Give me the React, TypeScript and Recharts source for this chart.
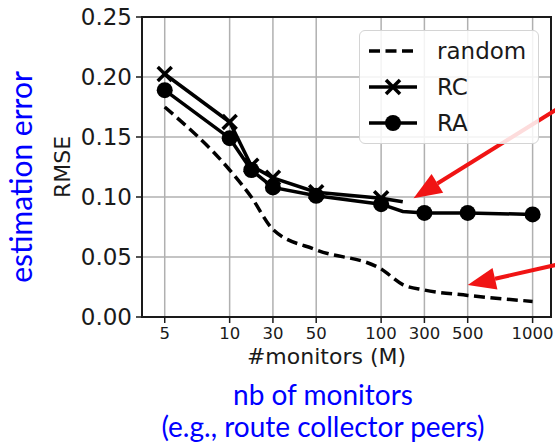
import React from "react";
import {
  CartesianGrid,
  Label,
  Legend,
  Line,
  LineChart,
  ReferenceArea,
  ReferenceLine,
  XAxis,
  YAxis,
} from "recharts";

// #monitors (M) for every measured point and the slot it occupies on the
// original (index based) x axis
const monitors = [5, 10, 20, 30, 50, 100, 200, 300, 500, 1000];
const slots = [0, 3, 4, 5, 7, 10, 11, 12, 14, 17];

const randomRmse = [0.175, 0.1225, 0.1, 0.073, 0.056, 0.04, 0.027, 0.0225, 0.018, 0.013];
const rcRmse = [0.2025, 0.1625, 0.126, 0.116, 0.104, 0.099, 0.096, null, null, null];
const raRmse = [0.189, 0.149, 0.1225, 0.108, 0.101, 0.094, 0.088, 0.0867, 0.0867, 0.0855];

// points that carry a marker (200 is drawn without one)
const markedMonitors = [5, 10, 20, 30, 50, 100, 300, 500, 1000];

const xTickSlots = [0, 3, 5, 7, 10, 12, 14, 17];
const xTickLabels = ["5", "10", "30", "50", "100", "300", "500", "1000"];
const yTicks = [0, 0.05, 0.1, 0.15, 0.2, 0.25];

const legendNames = ["random", "RC", "RA"];

// red annotation arrows, [from, to] in (slot, RMSE)
const arrows = [
  [{ x: 18.2, y: 0.174 }, { x: 11.5, y: 0.099 }],
  [{ x: 18.2, y: 0.0439 }, { x: 14.0, y: 0.0267 }],
];

const data = monitors.map((m, i) => ({
  m,
  slot: slots[i],
  random: randomRmse[i],
  RC: rcRmse[i],
  RA: raRmse[i],
}));

const INK = "#1a1a1a";
const FONT = "DejaVu Sans";
const BLUE = "#0000ff";

function CircleDot(props: any) {
  const { cx, cy, payload } = props;
  if (cy == null || !markedMonitors.includes(payload.m)) return <g />;
  return <circle cx={cx} cy={cy} r={8} fill="#000" />;
}

function CrossDot(props: any) {
  const { cx, cy, payload } = props;
  if (cy == null || !markedMonitors.includes(payload.m)) return <g />;
  const s = 7;
  return (
    <g stroke="#000" strokeWidth={3.5}>
      <line x1={cx - s} y1={cy - s} x2={cx + s} y2={cy + s} />
      <line x1={cx - s} y1={cy + s} x2={cx + s} y2={cy - s} />
    </g>
  );
}

function Arrow(props: any) {
  const { x1, y1, x2, y2 } = props;
  const ang = Math.atan2(y2 - y1, x2 - x1);
  const len = 28;
  const half = 11;
  const bx = x2 - len * Math.cos(ang);
  const by = y2 - len * Math.sin(ang);
  const nx = -Math.sin(ang);
  const ny = Math.cos(ang);
  return (
    <g>
      <line x1={x1} y1={y1} x2={bx} y2={by} stroke="#f01414" strokeWidth={4} />
      <polygon
        points={`${x2},${y2} ${bx + nx * half},${by + ny * half} ${bx - nx * half},${by - ny * half}`}
        fill="#f01414"
      />
    </g>
  );
}

function LegendSample({ name }: { name: string }) {
  return (
    <svg width={50} height={36}>
      <line
        x1={1}
        y1={18}
        x2={49}
        y2={18}
        stroke="#000"
        strokeWidth={3.5}
        strokeDasharray={name === "random" ? "11 5.5" : undefined}
      />
      {name === "RA" && <circle cx={25} cy={18} r={8} fill="#000" />}
      {name === "RC" && (
        <g stroke="#000" strokeWidth={3.5}>
          <line x1={18} y1={11} x2={32} y2={25} />
          <line x1={18} y1={25} x2={32} y2={11} />
        </g>
      )}
    </svg>
  );
}

function renderLegend() {
  return (
    <div
      style={{
        boxSizing: "border-box",
        width: 180,
        height: 114,
        paddingTop: 2,
        border: "1.5px solid #d4d4d4",
        borderRadius: 6,
        background: "rgba(255,255,255,0.85)",
      }}
    >
      {legendNames.map((n) => (
        <div key={n} style={{ display: "flex", alignItems: "center", height: 36 }}>
          <div style={{ marginLeft: 8, width: 50, height: 36 }}>
            <LegendSample name={n} />
          </div>
          <span style={{ marginLeft: 19, fontFamily: FONT, fontSize: 23, color: INK }}>{n}</span>
        </div>
      ))}
    </div>
  );
}

export default function App() {
  return (
    <div
      style={{
        position: "fixed",
        left: 0,
        top: 0,
        width: 555,
        height: 446,
        background: "#fff",
        overflow: "hidden",
      }}
    >
      <LineChart
        width={555}
        height={446}
        data={data}
        margin={{ top: 17, right: 4, bottom: 0, left: 0 }}
      >
        <CartesianGrid stroke="#b0b0b0" strokeWidth={1.5} />
        <XAxis
          dataKey="slot"
          type="number"
          domain={[-1.05, 17.85]}
          ticks={xTickSlots}
          tickFormatter={(v) => xTickLabels[xTickSlots.indexOf(v)]}
          height={129}
          axisLine={false}
          tickSize={6}
          tickMargin={4}
          tickLine={{ stroke: INK, strokeWidth: 1.5 }}
          tick={{ fontSize: 16.5, fill: INK, fontFamily: FONT }}
          interval={0}
        >
          <Label
            content={({ viewBox }: any) => (
              <text
                x={viewBox.x + viewBox.width / 2 - 20}
                y={viewBox.y + 47}
                textAnchor="middle"
                fontFamily={FONT}
                fontSize={22}
                fill={INK}
              >
                #monitors (M)
              </text>
            )}
          />
        </XAxis>
        <YAxis
          type="number"
          domain={[0, 0.25]}
          ticks={yTicks}
          tickFormatter={(v) => Number(v).toFixed(2)}
          width={142}
          axisLine={false}
          tickSize={6}
          tickMargin={4}
          tickLine={{ stroke: INK, strokeWidth: 1.5 }}
          tick={{ fontSize: 23, fill: INK, fontFamily: FONT }}
        >
          <Label
            content={({ viewBox }: any) => {
              const cx = viewBox.x + 62;
              const cy = viewBox.y + viewBox.height / 2;
              return (
                <text
                  x={cx}
                  y={cy}
                  transform={`rotate(-90 ${cx} ${cy})`}
                  textAnchor="middle"
                  dominantBaseline="central"
                  fontFamily={FONT}
                  fontSize={22}
                  fill={INK}
                >
                  RMSE
                </text>
              );
            }}
          />
        </YAxis>
        <ReferenceArea
          x1={-1.05}
          x2={17.85}
          y1={0}
          y2={0.25}
          ifOverflow="visible"
          fill="none"
          stroke={INK}
          strokeWidth={2}
        />
        <Line
          type="monotone"
          dataKey="random"
          name="random"
          stroke="#000"
          strokeWidth={3.5}
          strokeDasharray="11 5.5"
          dot={false}
          activeDot={false}
          isAnimationActive={false}
        />
        <Line
          dataKey="RC"
          name="RC"
          stroke="#000"
          strokeWidth={3.5}
          dot={CrossDot}
          activeDot={false}
          isAnimationActive={false}
        />
        <Line
          dataKey="RA"
          name="RA"
          stroke="#000"
          strokeWidth={3.5}
          dot={CircleDot}
          activeDot={false}
          isAnimationActive={false}
        />
        {arrows.map((seg, i) => (
          <ReferenceLine key={i} segment={seg} ifOverflow="visible" shape={Arrow} />
        ))}
        <Legend
          layout="vertical"
          align="center"
          verticalAlign="middle"
          content={renderLegend}
          wrapperStyle={{ left: 359, top: 30, width: 180, height: 114 }}
        />
      </LineChart>
      <svg
        width={555}
        height={446}
        style={{ position: "absolute", left: 0, top: 0, pointerEvents: "none" }}
      >
        <text
          x={32}
          y={177}
          transform="rotate(-90 32 177)"
          textAnchor="middle"
          fontFamily="Lato"
          fontSize={30}
          fill={BLUE}
        >
          estimation error
        </text>
        <text x={323} y={405} textAnchor="middle" fontFamily="Lato" fontSize={28} fill={BLUE}>
          nb of monitors
        </text>
        <text x={323} y={437} textAnchor="middle" fontFamily="Lato" fontSize={28} fill={BLUE}>
          (e.g., route collector peers)
        </text>
      </svg>
    </div>
  );
}
